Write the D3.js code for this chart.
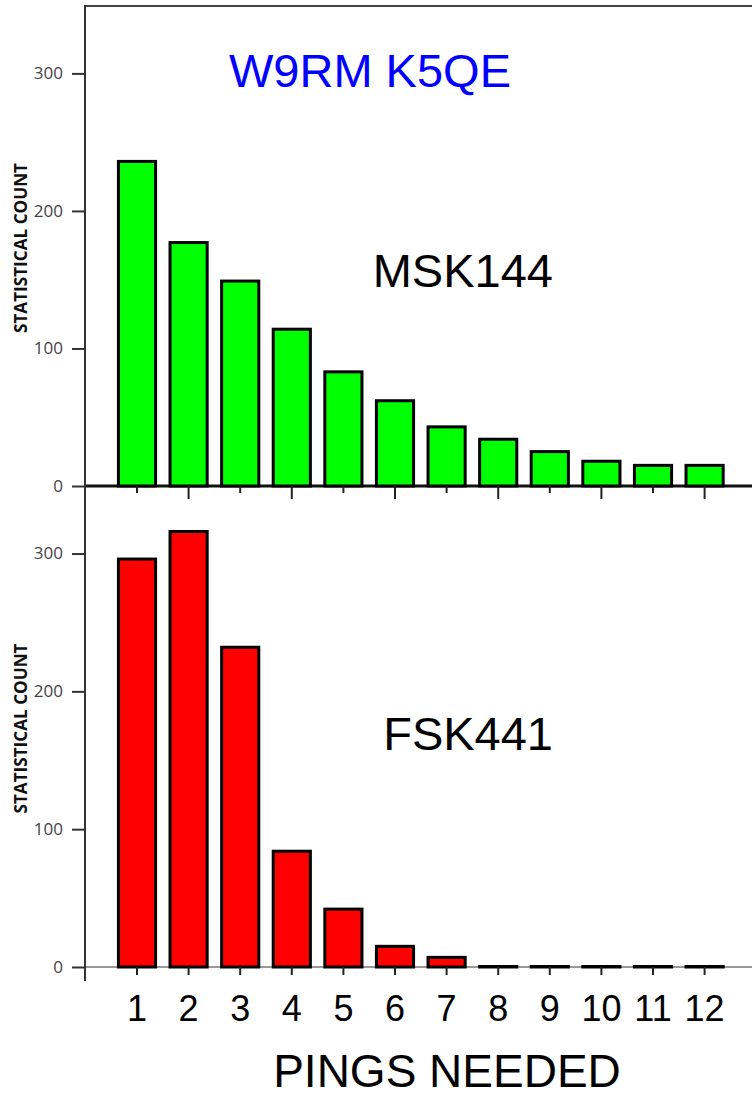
<!DOCTYPE html>
<html>
<head>
<meta charset="utf-8">
<script src="https://cdn.jsdelivr.net/npm/d3@7"></script>
<style>
  html, body { margin: 0; padding: 0; background: #fff; }
  svg { display: block; }
</style>
</head>
<body>
<svg id="chart" width="752" height="1097"></svg>
<script>
// data
const pings = ['1', '2', '3', '4', '5', '6', '7', '8', '9', '10', '11', '12'];
const msk144 = [236, 177, 149, 114, 83, 62, 43, 34, 25, 18, 15, 15];
const fsk441 = [296, 316, 232, 84, 42, 15, 7, 0, 0, 0, 0, 0];
const yTicks = [0, 100, 200, 300];

const W = 752;
const AXIS_X = 85;
const TOP = 6;
const MID = 486;
const BOTTOM = 967;

const svg = d3.select('svg#chart');

const x = d3.scaleBand()
  .domain(pings)
  .range([111.2, 730.4])
  .paddingInner(0.28)
  .paddingOuter(0.14);

const yTop = d3.scaleLinear().domain([0, 349]).range([MID, TOP]);
const yBot = d3.scaleLinear().domain([0, 349]).range([BOTTOM, MID]);

// frame: top border
svg.append('line')
  .attr('x1', AXIS_X).attr('x2', W)
  .attr('y1', TOP).attr('y2', TOP)
  .attr('stroke', '#444').attr('stroke-width', 2);

// baselines go under the bars
svg.append('line')
  .attr('x1', AXIS_X).attr('x2', W)
  .attr('y1', MID).attr('y2', MID)
  .attr('stroke', '#111').attr('stroke-width', 3);
svg.append('line')
  .attr('x1', AXIS_X).attr('x2', W)
  .attr('y1', BOTTOM).attr('y2', BOTTOM)
  .attr('stroke', '#777').attr('stroke-width', 1.5);

function panel(values, y, color, label, labelY) {
  // y axis ticks
  const ax = svg.append('g')
    .attr('transform', `translate(${AXIS_X},0)`)
    .call(d3.axisLeft(y).tickValues(yTicks).tickSize(13).tickPadding(9).tickSizeOuter(0));
  ax.select('.domain').remove();
  ax.selectAll('.tick line').attr('stroke', '#333').attr('stroke-width', 2);
  ax.selectAll('.tick text')
    .attr('fill', '#444')
    .attr('font-family', '"Open Sans", sans-serif')
    .attr('font-size', '17px');

  // bars (zero counts still show as a flat outline)
  svg.append('g')
    .selectAll('rect')
    .data(values)
    .enter()
    .append('rect')
    .attr('x', (v, i) => x(pings[i]))
    .attr('width', x.bandwidth())
    .attr('y', (v) => Math.min(y(v), y(0) - 0.5))
    .attr('height', (v) => Math.max(y(0) - y(v), 0.5))
    .attr('fill', color)
    .attr('stroke', '#000')
    .attr('stroke-width', 3);

  // y title
  const [r0, r1] = y.range();
  svg.append('text')
    .attr('transform', `translate(27,${(r0 + r1) / 2 + 2}) rotate(-90)`)
    .attr('text-anchor', 'middle')
    .attr('font-family', '"Open Sans", sans-serif')
    .attr('font-weight', 'bold')
    .attr('font-size', '18px')
    .attr('textLength', 170)
    .attr('lengthAdjust', 'spacingAndGlyphs')
    .attr('fill', '#111')
    .text('STATISTICAL COUNT');

  // mode label
  svg.append('text')
    .attr('x', 553)
    .attr('y', labelY)
    .attr('text-anchor', 'end')
    .attr('font-family', '"Liberation Sans", Arial, sans-serif')
    .attr('font-size', '47px')
    .attr('fill', '#000')
    .text(label);
}

panel(msk144, yTop, '#00ff00', 'MSK144', 287);
panel(fsk441, yBot, '#ff0000', 'FSK441', 750);

// top panel ticks, alternating lengths
const xt = svg.append('g')
  .attr('transform', `translate(0,${MID})`)
  .call(d3.axisBottom(x).tickSize(7).tickSizeOuter(0));
xt.select('.domain').remove();
xt.selectAll('.tick text').remove();
xt.selectAll('.tick line')
  .attr('y2', (d) => (+d % 2 === 0 ? 13 : 7))
  .attr('stroke', '#222').attr('stroke-width', 2);

// bottom axis
const xb = svg.append('g')
  .attr('transform', `translate(0,${BOTTOM})`)
  .call(d3.axisBottom(x).tickSize(8).tickPadding(20).tickSizeOuter(0));
xb.select('.domain').remove();
xb.selectAll('.tick line').attr('stroke', '#222').attr('stroke-width', 2);
xb.selectAll('.tick text')
  .attr('fill', '#000')
  .attr('font-family', '"Liberation Sans", Arial, sans-serif')
  .attr('font-size', '36px');

// left axis line
svg.append('line')
  .attr('x1', AXIS_X).attr('x2', AXIS_X)
  .attr('y1', TOP - 1).attr('y2', 981)
  .attr('stroke', '#333').attr('stroke-width', 2);

// title and x title
svg.append('text')
  .attr('x', 370)
  .attr('y', 87)
  .attr('text-anchor', 'middle')
  .attr('font-family', '"Liberation Sans", Arial, sans-serif')
  .attr('font-size', '47px')
  .attr('fill', '#0000ff')
  .text('W9RM K5QE');

svg.append('text')
  .attr('x', 447)
  .attr('y', 1087)
  .attr('text-anchor', 'middle')
  .attr('font-family', '"Liberation Sans", Arial, sans-serif')
  .attr('font-size', '46px')
  .attr('fill', '#000')
  .text('PINGS NEEDED');
</script>
</body>
</html>
